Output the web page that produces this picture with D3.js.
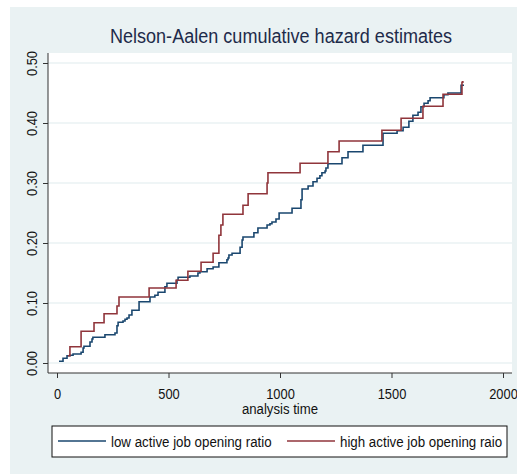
<!DOCTYPE html>
<html>
<head>
<meta charset="utf-8">
<script src="https://cdn.jsdelivr.net/npm/d3@7"></script>
<style>
  body { margin: 0; background: #fff; }
  svg text { font-family: "Liberation Sans", Arial, sans-serif; }
</style>
</head>
<body>
<div id="na_chart"></div>
<script>
// analysis time (days) and Nelson-Aalen cumulative hazard
const lowTimes = [9, 27, 45, 58, 72, 108, 117, 121, 148, 157, 161, 215, 260, 269, 274, 296, 305, 314, 323, 336,
                  368, 417, 439, 453, 484, 493, 538, 543, 596, 632, 641, 673, 700, 726, 762, 767, 771, 785, 821, 830,
                  834, 883, 901, 942, 955, 964, 982, 996, 1054, 1094, 1099, 1126, 1148, 1166, 1179, 1188, 1202, 1206, 1215, 1278,
                  1305, 1372, 1462, 1525, 1552, 1578, 1596, 1619, 1632, 1646, 1664, 1673, 1735, 1753, 1812, 1825]
const lowHazard = [0.003, 0.008, 0.012, 0.013, 0.015, 0.018, 0.025, 0.028, 0.035, 0.040, 0.043, 0.047, 0.050, 0.062, 0.068, 0.070, 0.073, 0.075, 0.080, 0.088,
                   0.102, 0.110, 0.113, 0.118, 0.127, 0.133, 0.138, 0.143, 0.145, 0.150, 0.152, 0.157, 0.160, 0.167, 0.172, 0.175, 0.180, 0.183, 0.193, 0.205,
                   0.210, 0.217, 0.225, 0.230, 0.232, 0.235, 0.240, 0.250, 0.258, 0.272, 0.290, 0.295, 0.302, 0.308, 0.312, 0.317, 0.320, 0.325, 0.332, 0.342,
                   0.352, 0.363, 0.383, 0.387, 0.393, 0.403, 0.413, 0.418, 0.427, 0.433, 0.437, 0.442, 0.447, 0.450, 0.463, 0.463]
const highTimes = [49, 58, 108, 166, 211, 269, 278, 413, 534, 587, 646, 700, 726, 735, 744, 834, 857, 942, 946, 1090,
                   1215, 1265, 1457, 1543, 1641, 1731, 1816, 1820]
const highHazard = [0.012, 0.027, 0.053, 0.067, 0.082, 0.095, 0.110, 0.125, 0.138, 0.153, 0.168, 0.183, 0.213, 0.230, 0.248, 0.263, 0.282, 0.300, 0.317, 0.333,
                    0.352, 0.370, 0.388, 0.408, 0.428, 0.448, 0.468, 0.470]

const seriesNames = ["low active job opening ratio", "high active job opening raio"]
const xTicks = [0, 500, 1000, 1500, 2000]
const yTicks = [0, 0.1, 0.2, 0.3, 0.4, 0.5]

const WIDTH = 517
const HEIGHT = 474
const PLOT = {left: 48, right: 512, top: 53, bottom: 373}
const COLORS = ["#1a476f", "#90353b"]
const BG = "#eaf2f3"
const NARROW = 0.83 // no narrow font installed, squeeze the regular one

/*********************************************
// Scales
*********************************************/
const x = d3.scaleLinear().domain([0, 2000]).range([57, 503])
const y = d3.scaleLinear().domain([0, 0.5]).range([363, 63])

function toPoints(times, values) {
  return times.map((t, i) => ({t: t, v: values[i]}))
}

function narrowText(sel, px, py, squeeze) {
  return sel.attr("x", 0).attr("y", 0)
    .attr("transform", `translate(${px},${py}) scale(${squeeze || NARROW},1)`)
}

/*********************************************
// Drawing
*********************************************/
const svg = d3.select("#na_chart").append("svg")
  .attr("width", WIDTH)
  .attr("height", HEIGHT)

// graph region
svg.append("rect")
  .attr("x", 10).attr("y", 7)
  .attr("width", WIDTH - 10).attr("height", HEIGHT - 7)
  .attr("fill", BG)

// plot region
svg.append("rect")
  .attr("x", PLOT.left).attr("y", PLOT.top)
  .attr("width", PLOT.right - PLOT.left).attr("height", PLOT.bottom - PLOT.top)
  .attr("fill", "#fff")

svg.append("g").selectAll("line.grid")
  .data(yTicks).enter()
  .append("line")
  .attr("x1", PLOT.left).attr("x2", PLOT.right)
  .attr("y1", y).attr("y2", y)
  .attr("stroke", BG)
  .attr("stroke-width", 1.5)

// axes
const yAxis = svg.append("g")
  .attr("transform", `translate(${PLOT.left},0)`)
  .call(d3.axisLeft(y).tickValues(yTicks).tickFormat(d3.format(".2f")).tickSize(5).tickSizeOuter(0))
yAxis.select(".domain").attr("d", `M0,${PLOT.top}V${PLOT.bottom}`)
yAxis.selectAll(".tick text")
  .attr("x", 0).attr("y", 0).attr("dy", 0)
  .attr("transform", `rotate(-90) translate(0,-11) scale(${NARROW},1)`)
  .attr("text-anchor", "middle")

const xAxis = svg.append("g")
  .attr("transform", `translate(0,${PLOT.bottom})`)
  .call(d3.axisBottom(x).tickValues(xTicks).tickFormat(d3.format("d")).tickSize(5).tickSizeOuter(0))
xAxis.select(".domain").attr("d", `M${PLOT.left},0H${PLOT.right}`)
xAxis.selectAll(".tick text")
  .attr("y", 0).attr("dy", 0)
  .attr("transform", `translate(0,26) scale(${NARROW},1)`)

svg.selectAll(".tick line, .domain").attr("stroke", "#333")
svg.selectAll(".tick text").attr("font-size", 15.5).attr("fill", "#111")

// step curves
const line = d3.line()
  .x((d) => x(d.t))
  .y((d) => y(d.v))
  .curve(d3.curveStepAfter)

const series = [toPoints(lowTimes, lowHazard), toPoints(highTimes, highHazard)]
svg.append("g").selectAll("path.na")
  .data(series).enter()
  .append("path")
  .attr("d", line)
  .attr("fill", "none")
  .attr("stroke", (_, i) => COLORS[i])
  .attr("stroke-width", 1.6)

// titles
svg.append("text")
  .text("Nelson-Aalen cumulative hazard estimates")
  .call(narrowText, (PLOT.left + PLOT.right) / 2 + 1, 43, 0.86)
  .attr("text-anchor", "middle")
  .attr("font-size", 21)
  .attr("fill", "#1e2b4a")

svg.append("text")
  .text("analysis time")
  .call(narrowText, (PLOT.left + PLOT.right) / 2, 414, 0.85)
  .attr("text-anchor", "middle")
  .attr("font-size", 15.5)
  .attr("fill", "#111")

// legend
const legend = svg.append("g")
legend.append("rect")
  .attr("x", 52).attr("y", 426)
  .attr("width", 455).attr("height", 31)
  .attr("fill", "#fff")
  .attr("stroke", "#111")
  .attr("stroke-width", 1)

const legendX = [58, 287]
seriesNames.forEach((name, i) => {
  legend.append("line")
    .attr("x1", legendX[i]).attr("x2", legendX[i] + 48)
    .attr("y1", 441).attr("y2", 441)
    .attr("stroke", COLORS[i])
    .attr("stroke-width", 1.6)
  legend.append("text")
    .text(name)
    .call(narrowText, legendX[i] + 53, 446.5, 0.86)
    .attr("font-size", 15.5)
    .attr("fill", "#111")
})
</script>
</body>
</html>
